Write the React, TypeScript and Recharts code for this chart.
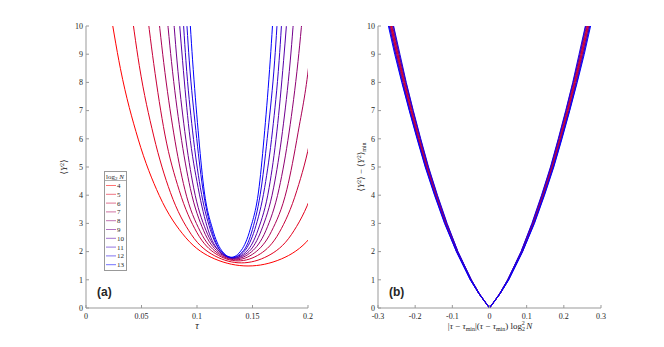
import { LineChart, Line, XAxis, YAxis } from 'recharts';

// log2 N for each curve, red -> blue
const logN = [4, 5, 6, 7, 8, 9, 10, 11, 12, 13];
const lineColors = [
  '#ff0000', '#e3001c', '#c60039', '#aa0055', '#8e0071',
  '#71008e', '#5500aa', '#3900c6', '#1c00e3', '#0000ff',
];

// panel (a): tau samples and <Y^2> values, one row per curve
const leftTau = [
  [0.020, 0.031, 0.047, 0.066, 0.090, 0.116, 0.146, 0.176, 0.202, 0.226, 0.245, 0.261, 0.272],
  [0.039, 0.048, 0.061, 0.076, 0.095, 0.116, 0.140, 0.164, 0.185, 0.204, 0.219, 0.232, 0.241],
  [0.053, 0.061, 0.071, 0.084, 0.100, 0.117, 0.137, 0.157, 0.174, 0.190, 0.203, 0.213, 0.221],
  [0.063, 0.070, 0.079, 0.089, 0.103, 0.118, 0.135, 0.152, 0.167, 0.181, 0.191, 0.201, 0.207],
  [0.071, 0.077, 0.085, 0.094, 0.106, 0.119, 0.134, 0.149, 0.162, 0.174, 0.183, 0.191, 0.197],
  [0.077, 0.082, 0.089, 0.097, 0.108, 0.120, 0.133, 0.147, 0.158, 0.169, 0.177, 0.184, 0.189],
  [0.082, 0.087, 0.093, 0.101, 0.110, 0.120, 0.1325, 0.145, 0.155, 0.165, 0.172, 0.178, 0.183],
  [0.086, 0.090, 0.096, 0.103, 0.112, 0.121, 0.132, 0.143, 0.152, 0.161, 0.168, 0.174, 0.178],
  [0.089, 0.093, 0.099, 0.105, 0.113, 0.121, 0.1315, 0.142, 0.150, 0.158, 0.164, 0.170, 0.174],
  [0.092, 0.096, 0.101, 0.106, 0.114, 0.122, 0.131, 0.140, 0.148, 0.156, 0.161, 0.166, 0.170],
];
const leftY = [
  [10.99, 8.49, 5.99, 3.99, 2.49, 1.74, 1.49, 1.74, 2.49, 3.99, 5.99, 8.49, 10.99],
  [11.10, 8.60, 6.10, 4.10, 2.60, 1.85, 1.60, 1.85, 2.60, 4.10, 6.10, 8.60, 11.10],
  [11.17, 8.67, 6.17, 4.17, 2.67, 1.92, 1.67, 1.92, 2.67, 4.17, 6.17, 8.67, 11.17],
  [11.21, 8.71, 6.21, 4.21, 2.71, 1.96, 1.71, 1.96, 2.71, 4.21, 6.21, 8.71, 11.21],
  [11.24, 8.74, 6.24, 4.24, 2.74, 1.99, 1.74, 1.99, 2.74, 4.24, 6.24, 8.74, 11.24],
  [11.26, 8.76, 6.26, 4.26, 2.76, 2.01, 1.76, 2.01, 2.76, 4.26, 6.26, 8.76, 11.26],
  [11.27, 8.77, 6.27, 4.27, 2.77, 2.02, 1.77, 2.02, 2.77, 4.27, 6.27, 8.77, 11.27],
  [11.28, 8.78, 6.28, 4.28, 2.78, 2.03, 1.78, 2.03, 2.78, 4.28, 6.28, 8.78, 11.28],
  [11.29, 8.79, 6.29, 4.29, 2.79, 2.04, 1.79, 2.04, 2.79, 4.29, 6.29, 8.79, 11.29],
  [11.30, 8.80, 6.30, 4.30, 2.80, 2.05, 1.80, 2.05, 2.80, 4.30, 6.30, 8.80, 11.30],
];

// panel (b): <Y^2> - <Y^2>min levels and |x| where each curve reaches them (symmetric V)
const rightLevels = [0, 0.5, 1, 2, 3, 4, 5, 6, 7, 8, 9, 10, 10.6];
const rightAbsX = [
  [0, 0.028, 0.050, 0.087, 0.117, 0.144, 0.168, 0.190, 0.210, 0.229, 0.247, 0.264, 0.274],
  [0, 0.028, 0.050, 0.087, 0.118, 0.145, 0.169, 0.191, 0.211, 0.230, 0.249, 0.266, 0.276],
  [0, 0.027, 0.050, 0.086, 0.116, 0.143, 0.167, 0.189, 0.209, 0.228, 0.246, 0.263, 0.272],
  [0, 0.028, 0.051, 0.088, 0.119, 0.146, 0.170, 0.192, 0.213, 0.232, 0.250, 0.267, 0.277],
  [0, 0.027, 0.049, 0.086, 0.116, 0.142, 0.166, 0.187, 0.207, 0.226, 0.244, 0.261, 0.271],
  [0, 0.028, 0.051, 0.088, 0.119, 0.146, 0.171, 0.193, 0.214, 0.233, 0.252, 0.269, 0.279],
  [0, 0.027, 0.049, 0.085, 0.115, 0.141, 0.165, 0.186, 0.206, 0.225, 0.243, 0.259, 0.269],
  [0, 0.028, 0.051, 0.089, 0.120, 0.147, 0.172, 0.194, 0.215, 0.235, 0.253, 0.270, 0.281],
  [0, 0.027, 0.049, 0.085, 0.114, 0.140, 0.164, 0.185, 0.205, 0.224, 0.241, 0.258, 0.267],
  [0, 0.028, 0.052, 0.089, 0.121, 0.148, 0.173, 0.195, 0.216, 0.236, 0.255, 0.272, 0.282],
];

const tauTicks = [0, 0.05, 0.1, 0.15, 0.2];
const xTicksB = [-0.3, -0.2, -0.1, 0, 0.1, 0.2, 0.3];
const yTicks = [0, 1, 2, 3, 4, 5, 6, 7, 8, 9, 10];

const AXIS = '#999';
const TEXT = '#262626';
const SERIF = '"Liberation Serif", "DejaVu Serif", serif';
const SANS = '"Liberation Sans", Arial, sans-serif';
const tickStyle = { fontSize: 8, fill: TEXT, fontFamily: SERIF };

const leftSeries = logN.map((n, i) => ({
  n,
  points: leftTau[i].map((x, j) => ({ x, y: leftY[i][j] })),
}));

const rightSeries = logN.map((n, i) => {
  const left = rightAbsX[i]
    .slice(1)
    .map((x, j) => ({ x: -x, y: rightLevels[j + 1] }))
    .reverse();
  const right = rightAbsX[i].map((x, j) => ({ x, y: rightLevels[j] }));
  return { n, points: [...left, ...right] };
});

// MATLAB-like box: labelled bottom/left axes, bare top/right axes, ticks pointing inward
function boxAxes(xDomain: [number, number], xTicks: number[]) {
  return [
    <XAxis
      key="xb"
      xAxisId="b"
      type="number"
      dataKey="x"
      domain={xDomain}
      ticks={xTicks}
      allowDataOverflow
      height={30}
      stroke={AXIS}
      tickSize={-3}
      tickMargin={8}
      tick={tickStyle}
    />,
    <XAxis
      key="xt"
      xAxisId="t"
      orientation="top"
      type="number"
      domain={xDomain}
      ticks={xTicks}
      height={0}
      stroke={AXIS}
      tickSize={-3}
      tick={false}
    />,
    <YAxis
      key="yl"
      yAxisId="l"
      type="number"
      domain={[0, 10]}
      ticks={yTicks}
      allowDataOverflow
      width={30}
      stroke={AXIS}
      tickSize={-3}
      tickMargin={6}
      tick={tickStyle}
    />,
    <YAxis
      key="yr"
      yAxisId="r"
      orientation="right"
      type="number"
      domain={[0, 10]}
      ticks={yTicks}
      width={0}
      stroke={AXIS}
      tickSize={-3}
      tick={false}
    />,
  ];
}

export default function App() {
  return (
    <div style={{ position: 'absolute', left: 0, top: 0, width: 664, height: 347, background: '#fff' }}>
      <div style={{ position: 'absolute', left: 0, top: 0 }}>
        <LineChart width={330} height={347} margin={{ top: 26, right: 22, bottom: 9, left: 56 }}>
          {boxAxes([0, 0.2], tauTicks)}
          {leftSeries.map((s, i) => (
            <Line
              key={s.n}
              xAxisId="b"
              yAxisId="l"
              data={s.points}
              dataKey="y"
              type="monotone"
              stroke={lineColors[i]}
              strokeWidth={1}
              dot={false}
              isAnimationActive={false}
            />
          ))}
        </LineChart>
      </div>

      <div style={{ position: 'absolute', left: 330, top: 0 }}>
        <LineChart width={334} height={347} margin={{ top: 26, right: 63, bottom: 9, left: 18 }}>
          {boxAxes([-0.3, 0.3], xTicksB)}
          {rightSeries.map((s, i) => (
            <Line
              key={s.n}
              xAxisId="b"
              yAxisId="l"
              data={s.points}
              dataKey="y"
              type="linear"
              stroke={lineColors[i]}
              strokeWidth={1}
              dot={false}
              isAnimationActive={false}
            />
          ))}
        </LineChart>
      </div>

      {/* axis titles, panel tags and legend */}
      <svg
        width={664}
        height={347}
        style={{ position: 'absolute', left: 0, top: 0, pointerEvents: 'none' }}
        fontFamily={SERIF}
        fill={TEXT}
      >
        <text x={197} y={329} fontSize={10} fontStyle="italic" textAnchor="middle">τ</text>
        <text transform="translate(67,167) rotate(-90)" fontSize={9} textAnchor="middle">
          ⟨<tspan fontStyle="italic">Y</tspan>
          <tspan fontSize={6} dy={-3}>2</tspan>
          <tspan dy={3}>⟩</tspan>
        </text>

        <text x={490} y={329} fontSize={9} textAnchor="middle">
          |<tspan fontStyle="italic">τ</tspan> − <tspan fontStyle="italic">τ</tspan>
          <tspan fontSize={6} dy={2}>min</tspan>
          <tspan dy={-2}>|(</tspan>
          <tspan fontStyle="italic">τ</tspan> − <tspan fontStyle="italic">τ</tspan>
          <tspan fontSize={6} dy={2}>min</tspan>
          <tspan dy={-2}>) log</tspan>
          <tspan fontSize={6} dy={2}>2</tspan>
          <tspan fontSize={6} dx={-3.3} dy={-6}>2</tspan>
          <tspan dx={1.5} dy={4} fontStyle="italic">N</tspan>
        </text>
        <text transform="translate(364,167) rotate(-90)" fontSize={9} textAnchor="middle">
          ⟨<tspan fontStyle="italic">Y</tspan>
          <tspan fontSize={6} dy={-3}>2</tspan>
          <tspan dy={3}>⟩ − ⟨</tspan>
          <tspan fontStyle="italic">Y</tspan>
          <tspan fontSize={6} dy={-3}>2</tspan>
          <tspan dy={3}>⟩</tspan>
          <tspan fontSize={6} dy={2}>min</tspan>
        </text>

        <text x={97} y={296} fontSize={12} fontWeight="bold" fontFamily={SANS}>(a)</text>
        <text x={389} y={296} fontSize={12} fontWeight="bold" fontFamily={SANS}>(b)</text>

        <rect x={104.5} y={171.5} width={22} height={99} fill="#fff" stroke={AXIS} strokeWidth={1} />
        <text x={106} y={178.5} fontSize={7}>
          log<tspan fontSize={5} dy={1.5}>2</tspan>
          <tspan dy={-1.5} fontStyle="italic"> N</tspan>
        </text>
        <line x1={104.5} x2={126.5} y1={180.5} y2={180.5} stroke={AXIS} strokeWidth={0.8} />
        {logN.map((n, i) => (
          <g key={n}>
            <line
              x1={106}
              x2={116}
              y1={185.5 + i * 8.8}
              y2={185.5 + i * 8.8}
              stroke={lineColors[i]}
              strokeOpacity={0.55}
              strokeWidth={1}
            />
            <text x={117} y={188 + i * 8.8} fontSize={7}>{n}</text>
          </g>
        ))}
      </svg>
    </div>
  );
}
